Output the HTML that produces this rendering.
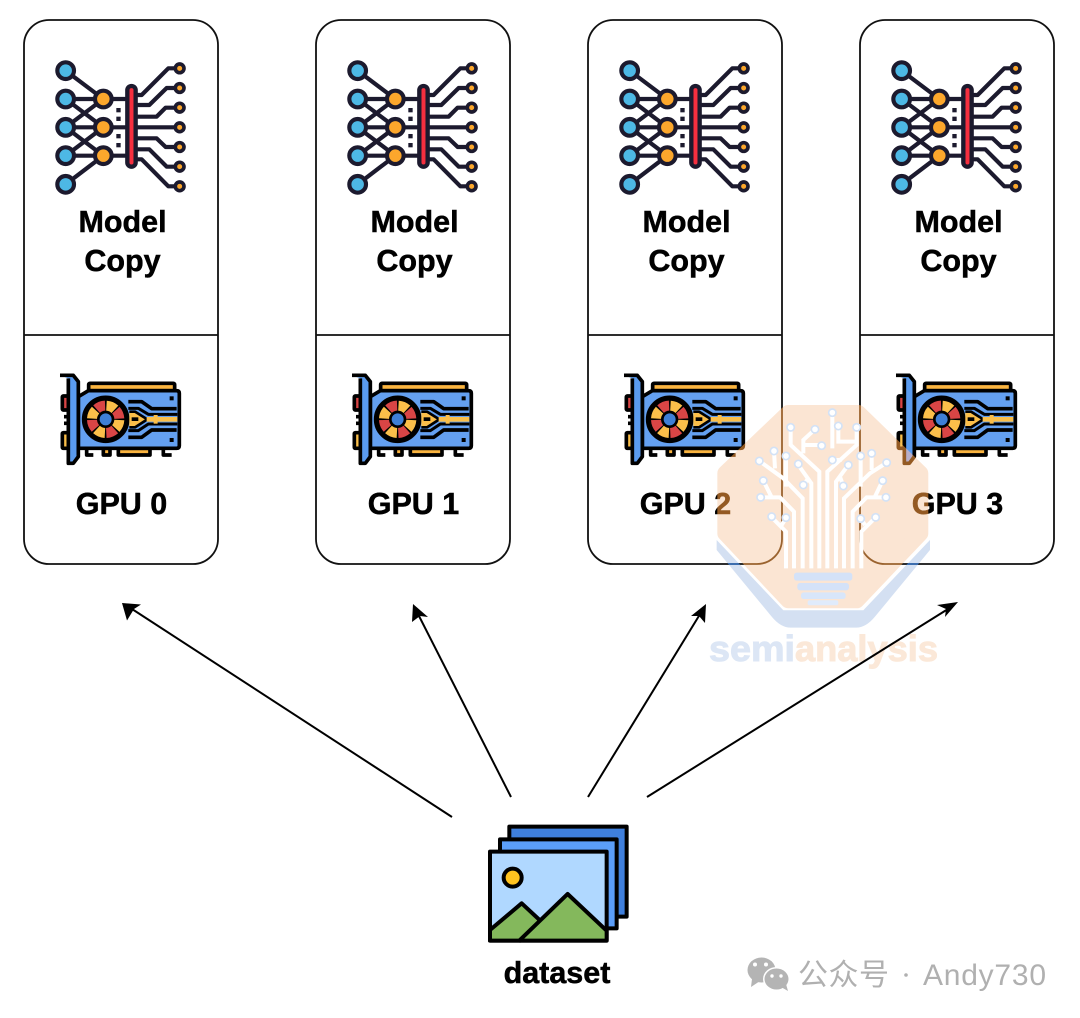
<!DOCTYPE html>
<html><head><meta charset="utf-8"><style>
html,body{margin:0;padding:0;background:#fff}
svg{display:block}
text{font-family:"Liberation Sans","Noto Sans CJK SC",sans-serif}
.l{font-size:30.5px;font-weight:700;text-anchor:middle;fill:#000;stroke:#000;stroke-width:.5px}
</style></head><body>
<svg width="1080" height="1018" viewBox="0 0 1080 1018" xmlns="http://www.w3.org/2000/svg">
<defs>
<g id="net" fill="none" stroke="#1c1a2e" stroke-width="12.500">
<path d="M107 92L220 177M107 177H304M107 262H304M107 347H304M107 177L220 262M220 177L107 262M107 262L220 347M107 347L220 262M107 433L220 347"/>
<path d="M320 165H335L415 85H449M320 195H358L410 144H449M320 230H380L407 203H449M320 262H449M320 295H380L407 321H449M320 328H358L410 380H449M320 358H335L415 439H449" stroke-linejoin="round"/>
<g fill="#4db8e5"><circle cx="107" cy="92" r="25"/><circle cx="107" cy="177" r="25"/><circle cx="107" cy="262" r="25"/><circle cx="107" cy="347" r="25"/><circle cx="107" cy="433" r="25"/></g>
<g fill="#fca72c"><circle cx="220" cy="177" r="25"/><circle cx="220" cy="262" r="25"/><circle cx="220" cy="347" r="25"/></g>
<g fill="#fca72c" stroke-width="11"><circle cx="449" cy="85" r="13"/><circle cx="449" cy="144" r="13"/><circle cx="449" cy="203" r="13"/><circle cx="449" cy="262" r="13"/><circle cx="449" cy="321" r="13"/><circle cx="449" cy="380" r="13"/><circle cx="449" cy="439" r="13"/></g>
<rect x="292" y="138" width="25" height="242" rx="12.500" fill="#f62f3f" stroke-width="13"/>
<g fill="#1c1a2e" stroke="none"><rect x="259" y="204" width="13" height="13"/><rect x="259" y="230" width="13" height="13"/><rect x="259" y="282" width="13" height="13"/><rect x="259" y="309" width="13" height="13"/></g>
</g>
<g id="gpu" stroke="#000" stroke-width="11" stroke-linejoin="round" fill="none">
<path d="M140 265V285H160M370 265V285H395"/>
<path d="M190 265V285H210V265Z" fill="#fbb540"/>
<path d="M235 265V285H330V265Z" fill="#fbb540"/>
<rect x="146" y="70" width="258" height="22" rx="4" fill="#fbb540"/>
<rect x="67" y="108" width="20" height="42" rx="3" fill="#d94545"/>
<rect x="67" y="218" width="20" height="47" rx="3" fill="#fbbf4a"/>
<path d="M72 170H88M72 190H88" />
<path d="M115 110L145 92H410Q418 92 418 100V257Q418 265 410 265H115Z" fill="#64a0f0"/>
<path d="M60 46H100L115 65V290L100 310H85V55" fill="#5a9bef"/>
<circle cx="197" cy="178" r="66" fill="#000"/>
<circle cx="197" cy="178" r="41" stroke="#d94545" stroke-width="30" stroke-dasharray="28 36.4" transform="rotate(-42 197 178)"/>
<circle cx="197" cy="178" r="41" stroke="#fbbf4a" stroke-width="30" stroke-dasharray="28 36.4" transform="rotate(3 197 178)"/>
<circle cx="197" cy="178" r="21" fill="#3f7fd6" stroke-width="6"/>
<path d="M265 125H305L335 146H410M265 232H305L335 210H410"/>
<path d="M265 145H295L325 163H412M265 212H295L325 192H412" stroke-width="9"/>
<path d="M268 155H285L322 178L285 202H268" fill="#fbbf4a" stroke-width="8"/>
<path d="M320 178H412" stroke="#fbbf4a" stroke-width="14"/>
<path d="M347 165V191" stroke="#fbbf4a" stroke-width="12"/>
<rect x="275" y="172" width="20" height="11" fill="#000" stroke="none"/>
<g fill="#000" stroke="none"><rect x="389" y="109" width="12" height="12"/><rect x="389" y="234" width="12" height="12"/></g>
</g>
<g id="card">
<rect x="24" y="20" width="194" height="544" rx="25" fill="#fff" stroke="#111" stroke-width="1.800"/>
<path d="M24 335H218" stroke="#111" stroke-width="1.800"/>
<use href="#net" transform="translate(30 40) scale(.3333)"/>
<use href="#gpu" transform="translate(40 360) scale(.3333)"/>
<text class="l" x="122.500" y="232">Model</text>
<text class="l" x="122.500" y="271">Copy</text>
</g>
<path id="orangeP" d="M265 69H475L661 250V430L470 631H265L76 430V250Z"/>
<path id="bandP" d="M50 450V480L215 680Q242 713 272 713H468Q498 713 525 680L690 480V450L490 661H250Z"/>
</defs>
<rect width="1080" height="1018" fill="#fff"/>

<use href="#card"/>
<use href="#card" x="292"/>
<use href="#card" x="564"/>
<use href="#card" x="836"/>
<text class="l" x="121.500" y="514">GPU 0</text>
<text class="l" x="413.500" y="514">GPU 1</text>
<text class="l" x="685.500" y="514">GPU 2</text>
<text class="l" x="957.500" y="514">GPU 3</text>

<!-- arrows -->
<g stroke="#000" stroke-width="2" fill="none">
<path d="M452 817L132 609"/>
<path d="M511 797L418.500 615"/>
<path d="M588 797L699.500 615"/>
<path d="M647 797L948 609"/>
</g>
<g fill="#000">
<path d="M122 603L141 604.500L134 609L127 620.500Z"/>
<path d="M413 604L428 617L420 616L412 622Z"/>
<path d="M706 604L705 623L699 616L691 616Z"/>
<path d="M958 602L945 617L946 609L937 605Z"/>
</g>

<!-- dataset -->
<g transform="translate(470 810) scale(.3333)" stroke="#000" stroke-width="12" stroke-linejoin="round">
<rect x="118" y="50" width="352" height="270" fill="#3f7fdc"/>
<rect x="90" y="88" width="350" height="267" fill="#5b9ef9"/>
<rect x="60" y="125" width="350" height="267" fill="#b0d8ff"/>
<circle cx="128" cy="203" r="27" fill="#ffc31f"/>
<path d="M60 360L155 280L225 345L150 392H60Z" fill="#84b85c"/>
<path d="M150 390L293 252L410 362V392H150Z" fill="#84b85c"/>
</g>
<text class="l" x="557" y="983">dataset</text>

<!-- watermark -->
<g>
<g transform="translate(700 390) scale(.3333)">
<use href="#bandP" fill="#1f5fa8" style="mix-blend-mode:screen"/>
<use href="#bandP" fill="#d4e0f2" style="mix-blend-mode:multiply"/>
</g>
<g transform="translate(700 390) scale(.3333)" stroke-width="48" stroke-linejoin="round">
<use href="#orangeP" fill="#96642a" stroke="#96642a" style="mix-blend-mode:screen"/>
<use href="#orangeP" fill="#fbe5d3" stroke="#fbe5d3" style="mix-blend-mode:multiply"/>
</g>
<g transform="translate(700 390) scale(.3333)">
<g fill="none" stroke="#fff" stroke-width="12" stroke-linejoin="miter">
<path d="M258 535V425L215 382M245 405L258 385"/>
<path d="M282 535V365L240 322H182M215 322L190 272"/>
<path d="M308 535V325L250 265L178 213M225 235L222 183M258 198V290"/>
<path d="M334 535V280L295 225M310 285L325 265"/>
<path d="M358 535V245L272 165V112M310 190V150L345 118M310 165H365"/>
<path d="M382 535V245L470 165V112M415 108V155H465M397 68V175M397 210H425"/>
<path d="M408 535V275L445 225M430 288L420 260"/>
<path d="M432 535V325L510 250L560 218M515 190V240M482 200V290"/>
<path d="M458 535V365L500 322H558M525 320L548 272"/>
<path d="M484 535V425L527 382M482 385L495 405"/>
</g>
<g fill="#fff" stroke="#d3e2f6" stroke-width="5">
<circle cx="397" cy="68" r="11"/><circle cx="415" cy="108" r="11"/><circle cx="470" cy="112" r="11"/><circle cx="345" cy="118" r="11"/><circle cx="272" cy="112" r="11"/><circle cx="365" cy="167" r="11"/><circle cx="222" cy="183" r="11"/><circle cx="178" cy="213" r="11"/><circle cx="258" cy="198" r="11"/><circle cx="295" cy="222" r="11"/><circle cx="397" cy="210" r="11"/><circle cx="445" cy="225" r="11"/><circle cx="482" cy="198" r="11"/><circle cx="515" cy="190" r="11"/><circle cx="560" cy="218" r="11"/><circle cx="190" cy="272" r="11"/><circle cx="310" cy="285" r="11"/><circle cx="430" cy="288" r="11"/><circle cx="548" cy="272" r="11"/><circle cx="182" cy="322" r="11"/><circle cx="558" cy="322" r="11"/><circle cx="215" cy="380" r="11"/><circle cx="258" cy="383" r="11"/><circle cx="482" cy="386" r="11"/><circle cx="527" cy="382" r="11"/>
</g>
<g fill="#d4e2f8">
<rect x="282" y="548" width="175" height="24" rx="8"/>
<rect x="292" y="579" width="155" height="22" rx="8"/>
<rect x="303" y="607" width="134" height="20" rx="8" fill="#d8e6fa"/>
<rect x="323" y="631" width="92" height="15" rx="6" fill="#e0ebfb"/>
</g>
</g>
<text x="709" y="661" font-size="36" font-weight="700" textLength="86" lengthAdjust="spacingAndGlyphs" fill="#dce6f5" stroke="#dce6f5" stroke-width="1" style="mix-blend-mode:multiply">semi</text>
<text x="795" y="661" font-size="36" font-weight="700" textLength="143" lengthAdjust="spacingAndGlyphs" fill="#fbe8d8" stroke="#fbe8d8" stroke-width="1" style="mix-blend-mode:multiply">analysis</text>
</g>

<!-- wechat footer -->
<ellipse cx="761.500" cy="970" rx="14" ry="12.500" fill="#b4b4b4"/>
<path d="M752 979L751 987L760 981Z" fill="#b4b4b4"/>
<ellipse cx="776.500" cy="979" rx="13.500" ry="12" fill="#fff"/>
<ellipse cx="776.500" cy="979" rx="12" ry="10.500" fill="#b4b4b4"/>
<path d="M781 987L788 991L786 984Z" fill="#b4b4b4"/>
<g fill="#fff"><circle cx="755" cy="964.500" r="2"/><circle cx="766" cy="964.500" r="2"/><circle cx="772" cy="976" r="1.700"/><circle cx="781" cy="976" r="1.700"/></g>
<text x="798" y="985" font-size="30" fill="#b0b0b0" style="font-family:'Noto Sans CJK SC','Liberation Sans',sans-serif" textLength="91">公众号</text>
<circle cx="906" cy="975" r="1.800" fill="#b0b0b0"/>
<text x="923" y="985" font-size="30" fill="#b0b0b0" textLength="123">Andy730</text>
</svg>
</body></html>
